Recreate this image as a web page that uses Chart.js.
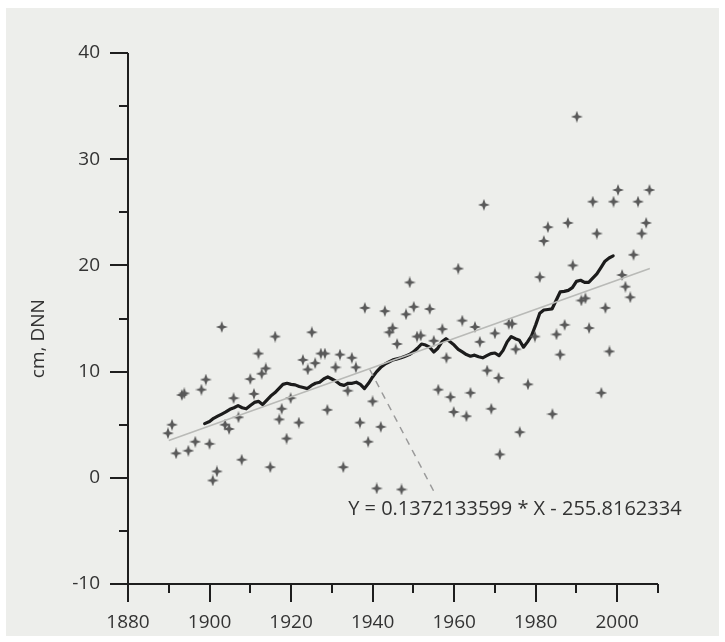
<!DOCTYPE html>
<html>
<head>
<meta charset="utf-8">
<title>Sea level trend</title>
<script src="https://cdn.jsdelivr.net/npm/chart.js@4.4.0/dist/chart.umd.min.js"></script>
<style>
  html, body { margin: 0; padding: 0; background: #fff; }
  #wrap { position: absolute; left: 6px; top: 8px; width: 713px; height: 628px; background: #edeeeb; }
</style>
</head>
<body>
<div id="wrap"><canvas id="chart"></canvas></div>
<script>
// yearly mean values (cm above DNN)
const years = [
  1889.8, 1890.8, 1891.8, 1893.2, 1893.8, 1894.8, 1896.5, 1898.0, 1899.1, 1900.0,
  1900.8, 1901.8, 1903.0, 1903.8, 1904.8, 1905.9, 1907.1, 1907.9, 1910.0, 1910.9,
  1912.0, 1912.8, 1913.8, 1914.9, 1916.1, 1917.1, 1917.7, 1918.9, 1919.9, 1921.9,
  1922.9, 1924.1, 1925.1, 1925.9, 1927.3, 1928.3, 1928.9, 1930.9, 1932.0, 1932.8,
  1933.9, 1934.9, 1935.9, 1936.9, 1938.1, 1938.9, 1940.0, 1941.0, 1942.0, 1943.0,
  1944.1, 1944.9, 1946.0, 1947.1, 1948.2, 1949.1, 1950.1, 1950.9, 1951.8, 1954.0,
  1955.0, 1956.1, 1957.1, 1958.1, 1959.1, 1959.9, 1961.0, 1962.0, 1963.0, 1964.0,
  1965.1, 1966.3, 1967.3, 1968.1, 1969.1, 1970.0, 1970.9, 1971.2, 1973.4, 1974.2,
  1975.1, 1976.1, 1978.1, 1979.8, 1981.0, 1982.0, 1983.0, 1984.1, 1985.1, 1986.0,
  1987.1, 1987.9, 1989.1, 1990.1, 1991.2, 1992.2, 1993.1, 1994.0, 1995.0, 1996.1,
  1997.1, 1998.1, 1999.1, 2000.2, 2001.2, 2002.0, 2003.2, 2004.0, 2005.1, 2006.0,
  2007.1, 2007.9
];
const levels = [
  4.2, 5.0, 2.3, 7.8, 7.95, 2.55, 3.4, 8.3, 9.25, 3.2,
  -0.25, 0.6, 14.2, 5.0, 4.6, 7.5, 5.7, 1.7, 9.3, 7.9,
  11.7, 9.8, 10.3, 1.0, 13.3, 5.5, 6.5, 3.7, 7.5, 5.2,
  11.1, 10.2, 13.7, 10.8, 11.7, 11.7, 6.4, 10.4, 11.6, 1.0,
  8.2, 11.3, 10.4, 5.2, 16.0, 3.4, 7.2, -1.0, 4.8, 15.7,
  13.7, 14.1, 12.6, -1.1, 15.4, 18.4, 16.1, 13.3, 13.4, 15.9,
  12.9, 8.3, 14.0, 11.3, 7.6, 6.2, 19.7, 14.8, 5.8, 8.0,
  14.2, 12.8, 25.7, 10.1, 6.5, 13.6, 9.4, 2.2, 14.5, 14.5,
  12.1, 4.3, 8.8, 13.3, 18.9, 22.3, 23.6, 6.0, 13.5, 11.6,
  14.4, 24.0, 20.0, 34.0, 16.7, 16.9, 14.1, 26.0, 23.0, 8.0,
  16.0, 11.9, 26.0, 27.1, 19.1, 18.0, 17.0, 21.0, 26.0, 23.0,
  24.0, 27.1
];

// running mean
const meanYears = [
  1898.8, 1900, 1901, 1902, 1903, 1904, 1905, 1906, 1907, 1908, 1909,
  1910, 1911, 1912, 1913, 1914, 1915, 1916, 1917, 1918, 1919,
  1920, 1921, 1922, 1923, 1924, 1925, 1926, 1927, 1928, 1929,
  1930, 1931, 1932, 1933, 1934, 1935, 1936, 1937, 1938, 1939,
  1940, 1941, 1942, 1943, 1944, 1945, 1946, 1947, 1948, 1949,
  1950, 1951, 1952, 1953, 1954, 1955, 1956, 1957, 1958, 1959,
  1960, 1961, 1962, 1963, 1964, 1965, 1966, 1967, 1968, 1969,
  1970, 1971, 1972, 1973, 1974, 1975, 1976, 1977, 1978, 1979,
  1980, 1981, 1982, 1983, 1984, 1985, 1986, 1987, 1988, 1989,
  1990, 1991, 1992, 1993, 1994, 1995, 1996, 1997, 1998, 1999
];
const meanLevels = [
  5.1, 5.3, 5.6, 5.8, 6.0, 6.2, 6.45, 6.6, 6.8, 6.6, 6.5,
  6.8, 7.1, 7.2, 6.9, 7.3, 7.7, 8.0, 8.4, 8.8, 8.9,
  8.8, 8.75, 8.6, 8.5, 8.4, 8.7, 8.9, 9.0, 9.3, 9.5,
  9.3, 9.1, 8.8, 8.7, 8.9, 8.9, 9.0, 8.8, 8.4, 8.9,
  9.5, 10.0, 10.4, 10.7, 10.9, 11.1, 11.2, 11.3, 11.45, 11.6,
  11.85, 12.2, 12.6, 12.5, 12.3, 11.85, 12.2, 12.8, 13.1, 12.8,
  12.5, 12.1, 11.85, 11.6, 11.45, 11.55, 11.4, 11.3, 11.5, 11.7,
  11.75, 11.5, 12.0, 12.8, 13.3, 13.1, 12.95, 12.3, 12.8, 13.4,
  14.4, 15.5, 15.8, 15.85, 15.9, 16.7, 17.5, 17.55, 17.65, 17.9,
  18.5, 18.6, 18.4, 18.4, 18.8, 19.2, 19.8, 20.4, 20.7, 20.9
];

// linear trend
const slope = 0.1372133599;
const intercept = -255.8162334;
const fitYears = [1890, 2008];
const fitLabel = 'Y = 0.1372133599 * X - 255.8162334';

// leader from label to trend line
const leaderYears = [1939.3, 1955.6];
const leaderLevels = [10.2, -1.7];

// axis ticks
const xMajor = [1880, 1900, 1920, 1940, 1960, 1980, 2000];
const xMinor = [1890, 1910, 1930, 1950, 1970, 1990, 2010];
const yMajor = [-10, 0, 10, 20, 30, 40];
const yMinor = [-5, 5, 15, 25, 35];
const yTitle = 'cm, DNN';

const FONT = '"Open Sans", "Noto Sans", sans-serif';
const INK = '#333';

function makeStar(size, color) {
  const c = document.createElement('canvas');
  c.width = c.height = size;
  const g = c.getContext('2d');
  const m = size / 2, r = size / 2, w = 1.6;
  g.fillStyle = color;
  g.beginPath();
  g.moveTo(m, m - r);
  g.lineTo(m + w, m - w);
  g.lineTo(m + r, m);
  g.lineTo(m + w, m + w);
  g.lineTo(m, m + r);
  g.lineTo(m - w, m + w);
  g.lineTo(m - r, m);
  g.lineTo(m - w, m - w);
  g.closePath();
  g.fill();
  return c;
}

// soft edges for datasets that ask for it
const blurPlugin = {
  id: 'blur',
  beforeDatasetDraw(chart, args) {
    const b = chart.data.datasets[args.index].blur;
    if (b) {
      chart.ctx.save();
      chart.ctx.filter = `blur(${b}px)`;
    }
  },
  afterDatasetDraw(chart, args) {
    if (chart.data.datasets[args.index].blur) chart.ctx.restore();
  }
};

// axis lines, long/short tick marks, axis title and the trend formula
const axesPlugin = {
  id: 'axes',
  afterDraw(chart) {
    const { ctx, chartArea: a, scales: { x, y } } = chart;
    ctx.save();
    ctx.strokeStyle = '#1e1e1e';
    ctx.lineWidth = 2;
    ctx.beginPath();
    ctx.moveTo(a.left, a.top);
    ctx.lineTo(a.left, a.bottom);
    ctx.moveTo(a.left - 18, a.bottom);
    ctx.lineTo(a.right, a.bottom);
    xMajor.forEach(v => {
      const px = Math.round(x.getPixelForValue(v));
      ctx.moveTo(px, a.bottom);
      ctx.lineTo(px, a.bottom + 18);
    });
    xMinor.forEach(v => {
      const px = Math.round(x.getPixelForValue(v));
      ctx.moveTo(px, a.bottom);
      ctx.lineTo(px, a.bottom + 9);
    });
    yMajor.forEach(v => {
      const py = Math.round(y.getPixelForValue(v));
      ctx.moveTo(a.left - 18, py);
      ctx.lineTo(a.left, py);
    });
    yMinor.forEach(v => {
      const py = Math.round(y.getPixelForValue(v));
      ctx.moveTo(a.left - 9, py);
      ctx.lineTo(a.left, py);
    });
    ctx.stroke();

    ctx.fillStyle = INK;
    ctx.font = '20px ' + FONT;
    ctx.textBaseline = 'middle';
    ctx.textAlign = 'left';
    ctx.fillText(fitLabel, x.getPixelForValue(1934), y.getPixelForValue(-3.0));

    ctx.font = '19px ' + FONT;
    ctx.textAlign = 'center';
    ctx.translate(33, y.getPixelForValue(13.1));
    ctx.rotate(-Math.PI / 2);
    ctx.fillText(yTitle, 0, 0);
    ctx.restore();
  }
};

const star = makeStar(12, '#595959');

new Chart(document.getElementById('chart'), {
  type: 'scatter',
  data: {
    datasets: [
      {
        type: 'line',
        data: fitYears.map(v => ({ x: v, y: slope * v + intercept })),
        borderColor: '#b9bab7',
        borderWidth: 1.6,
        pointRadius: 0
      },
      {
        data: years.map((v, i) => ({ x: v, y: levels[i] })),
        pointStyle: star,
        pointRadius: 5,
        blur: 0.6
      },
      {
        type: 'line',
        data: leaderYears.map((v, i) => ({ x: v, y: leaderLevels[i] })),
        borderColor: '#9a9a9a',
        borderWidth: 1.5,
        borderDash: [7, 6],
        pointRadius: 0
      },
      {
        type: 'line',
        data: meanYears.map((v, i) => ({ x: v, y: meanLevels[i] })),
        borderColor: '#1c1c1c',
        borderWidth: 3.2,
        pointRadius: 0,
        borderJoinStyle: 'round',
        borderCapStyle: 'round',
        blur: 0.4
      }
    ]
  },
  options: {
    responsive: true,
    maintainAspectRatio: false,
    animation: false,
    layout: { padding: { top: 45, right: 61, bottom: 0, left: 0 } },
    plugins: { legend: { display: false }, tooltip: { enabled: false } },
    scales: {
      x: {
        type: 'linear',
        min: 1880,
        max: 2010,
        afterFit: s => { s.height = 52; },
        border: { display: false },
        grid: { drawOnChartArea: false, tickLength: 18, color: 'rgba(0,0,0,0)' },
        ticks: {
          stepSize: 10,
          autoSkip: false,
          maxRotation: 0,
          padding: 9,
          color: INK,
          font: { family: FONT, size: 19 },
          callback: v => xMajor.includes(v) ? String(v) : ''
        }
      },
      y: {
        min: -10,
        max: 40,
        afterFit: s => { s.width = 122; },
        border: { display: false },
        grid: { drawOnChartArea: false, tickLength: 18, color: 'rgba(0,0,0,0)' },
        ticks: {
          stepSize: 5,
          autoSkip: false,
          padding: 10,
          color: INK,
          font: { family: FONT, size: 19 },
          callback: v => yMajor.includes(v) ? String(v) : ''
        }
      }
    }
  },
  plugins: [blurPlugin, axesPlugin]
});
</script>
</body>
</html>
